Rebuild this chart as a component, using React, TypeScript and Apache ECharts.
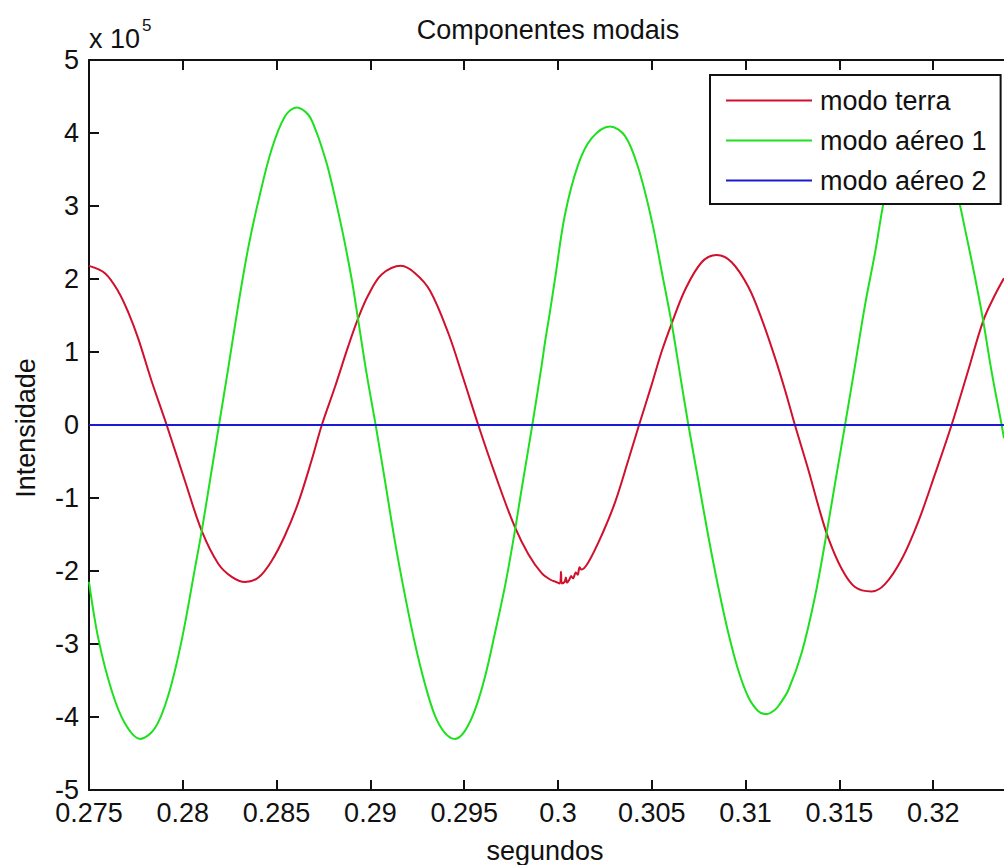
import React, { useEffect, useRef } from 'react';
import * as echarts from 'echarts';

// x axis (segundos) and y axis (Intensidade, x 10^5) settings
const xMin = 0.275;
const xMax = 0.325;
const xStep = 0.005;
const yMin = -5;
const yMax = 5;
const yStep = 1;

const seriesNames = ['modo terra', 'modo aéreo 1', 'modo aéreo 2'];

// modo terra (red), values in units of 10^5
const terraT = [
  0.275, 0.27585, 0.27656, 0.2771, 0.27763, 0.27834, 0.27914, 0.28012, 0.28101, 0.28189,
  0.28261, 0.28332, 0.28403, 0.28474, 0.28545, 0.28616, 0.28687, 0.28741, 0.28811, 0.28882,
  0.28936, 0.28989, 0.2906, 0.29163, 0.29238, 0.29318, 0.29415, 0.29495, 0.29575, 0.29664,
  0.29767, 0.29842, 0.29913, 0.2996, 0.2999, 0.3001, 0.30016, 0.3002, 0.30035, 0.30042,
  0.30048, 0.3006, 0.3007, 0.3008, 0.30095, 0.30105, 0.30115, 0.30125, 0.30162, 0.30233,
  0.30304, 0.30375, 0.30432, 0.30499, 0.30553, 0.30606, 0.30677, 0.30766, 0.30846, 0.30926,
  0.31015, 0.31086, 0.31157, 0.3121, 0.31263, 0.31334, 0.31388, 0.31441, 0.31512, 0.31583,
  0.31672, 0.31743, 0.31832, 0.31921, 0.3201, 0.32098, 0.32187, 0.32267, 0.32329, 0.32377,
];
const terraV = [
  2.18, 2.08, 1.83, 1.54, 1.18, 0.6, 0.0, -0.77, -1.45, -1.9,
  -2.08, -2.15, -2.09, -1.86, -1.51, -1.06, -0.48, 0.0, 0.52, 1.08,
  1.47, 1.78, 2.06, 2.18, 2.08, 1.84, 1.26, 0.64, 0.0, -0.67,
  -1.38, -1.77, -2.03, -2.12, -2.15, -2.17, -2.01, -2.17, -2.15, -2.09,
  -2.16, -2.12, -2.07, -2.1, -2.02, -2.05, -1.95, -1.98, -1.88, -1.51,
  -1.06, -0.48, 0.0, 0.55, 1.01, 1.39, 1.85, 2.23, 2.33, 2.23,
  1.89, 1.45, 0.92, 0.48, 0.0, -0.61, -1.11, -1.55, -1.97, -2.22,
  -2.28, -2.18, -1.84, -1.32, -0.67, 0.0, 0.75, 1.43, 1.78, 2.01,
];

// modo aéreo 1 (green)
const aereo1T = [
  0.275, 0.2755, 0.27621, 0.27692, 0.27772, 0.27852, 0.27923, 0.27994, 0.28065, 0.28101,
  0.28145, 0.28193, 0.28243, 0.28296, 0.28349, 0.28403, 0.28474, 0.28545, 0.28607, 0.28669,
  0.28705, 0.28731, 0.28776, 0.28847, 0.289, 0.28936, 0.2898, 0.29028, 0.29078, 0.29131,
  0.29184, 0.29238, 0.29291, 0.29344, 0.29398, 0.29451, 0.29504, 0.29558, 0.29611, 0.29664,
  0.29718, 0.29767, 0.29806, 0.29863, 0.29913, 0.29931, 0.29957, 0.29984, 0.30037, 0.30108,
  0.3018, 0.30277, 0.30357, 0.30428, 0.30499, 0.30553, 0.30606, 0.3065, 0.30695, 0.30748,
  0.30801, 0.30855, 0.30908, 0.30961, 0.31015, 0.31068, 0.31112, 0.31157, 0.31183, 0.31228,
  0.31299, 0.3137, 0.31432, 0.3148, 0.3153, 0.31583, 0.31637, 0.3169, 0.31743, 0.318,
  0.3187, 0.31938, 0.32005, 0.3207, 0.32125, 0.3217, 0.32223, 0.32267, 0.32312, 0.32365,
  0.32377,
];
const aereo1V = [
  -2.15, -2.93, -3.64, -4.09, -4.3, -4.15, -3.7, -2.95, -1.96, -1.45,
  -0.76, 0.0, 0.79, 1.65, 2.43, 3.07, 3.78, 4.23, 4.35, 4.25,
  4.06, 3.88, 3.5, 2.7, 2.0, 1.42, 0.7, 0.0, -0.77, -1.6,
  -2.33, -3.0, -3.55, -3.98, -4.22, -4.3, -4.19, -3.9, -3.45, -2.85,
  -2.2, -1.5, -0.88, 0.0, 0.82, 1.14, 1.55, 2.0, 2.88, 3.57,
  3.93, 4.09, 3.96, 3.52, 2.81, 2.1, 1.39, 0.7, 0.0, -0.76,
  -1.52, -2.23, -2.85, -3.36, -3.73, -3.92, -3.96, -3.9, -3.82, -3.63,
  -3.12, -2.35, -1.48, -0.75, 0.0, 0.81, 1.65, 2.36, 3.14, 3.65,
  3.98, 4.08, 3.97, 3.62, 3.2, 2.68, 2.02, 1.42, 0.72, 0.0,
  -0.18,
];

// modo aéreo 2 (blue)
const aereo2T = [0.275, 0.32377];
const aereo2V = [0, 0];

const zip = (t: number[], v: number[]) => t.map((x, i) => [x, v[i]]);

const FONT = 'Liberation Sans';
const TXT = '#111';

export default function App() {
  const ref = useRef<HTMLDivElement>(null);

  useEffect(() => {
    if (!ref.current) return;
    const chart = echarts.init(ref.current, null, { renderer: 'svg' });
    const axisCommon = {
      type: 'value' as const,
      min: xMin,
      max: xMax,
      interval: xStep,
      splitLine: { show: false },
      axisLine: { show: true, onZero: false, lineStyle: { color: '#111', width: 2 } },
      axisTick: { show: true, inside: true, length: 10, lineStyle: { color: '#111', width: 2 } },
    };
    chart.setOption({
      animation: false,
      backgroundColor: '#fff',
      textStyle: { fontFamily: FONT },
      grid: { left: 89, top: 60, width: 938, height: 730, containLabel: false, outerBoundsMode: 'none' },
      xAxis: [
        {
          ...axisCommon,
          position: 'bottom',
          axisLabel: {
            show: true,
            margin: 9,
            fontSize: 27,
            fontFamily: FONT,
            color: TXT,
            formatter: (v: number) => (v > 0.3226 ? '' : String(Math.round(v * 1000) / 1000)),
          },
        },
        {
          ...axisCommon,
          position: 'top',
          axisLabel: { show: false },
        },
      ],
      yAxis: {
        type: 'value',
        min: yMin,
        max: yMax,
        interval: yStep,
        splitLine: { show: false },
        axisLine: { show: true, onZero: false, lineStyle: { color: '#111', width: 2 } },
        axisTick: { show: true, inside: true, length: 10, lineStyle: { color: '#111', width: 2 } },
        axisLabel: { margin: 10, fontSize: 27, fontFamily: FONT, color: TXT },
      },
      legend: {
        orient: 'vertical',
        left: 710,
        top: 75,
        data: seriesNames,
        icon: 'rect',
        backgroundColor: '#fff',
        borderColor: '#111',
        borderWidth: 2,
        borderRadius: 0,
        padding: [12, 14, 10, 16],
        itemWidth: 86,
        itemHeight: 2,
        itemGap: 13,
        textStyle: { fontSize: 27, fontFamily: FONT, color: TXT, lineHeight: 27, padding: [0, 0, 0, 3] },
      },
      graphic: [
        {
          type: 'text',
          x: 548,
          y: 30,
          style: {
            text: 'Componentes modais',
            fontSize: 27,
            fontFamily: FONT,
            fill: TXT,
            align: 'center',
            verticalAlign: 'middle',
          },
        },
        {
          type: 'text',
          x: 89,
          y: 39,
          style: { text: 'x 10', fontSize: 27, fontFamily: FONT, fill: TXT, align: 'left', verticalAlign: 'middle' },
        },
        {
          type: 'text',
          x: 142,
          y: 25,
          style: { text: '5', fontSize: 17, fontFamily: FONT, fill: TXT, align: 'left', verticalAlign: 'middle' },
        },
        {
          type: 'text',
          x: 545,
          y: 851,
          style: { text: 'segundos', fontSize: 27, fontFamily: FONT, fill: TXT, align: 'center', verticalAlign: 'middle' },
        },
        {
          type: 'text',
          x: 26,
          y: 428,
          rotation: Math.PI / 2,
          style: { text: 'Intensidade', fontSize: 27, fontFamily: FONT, fill: TXT, align: 'center', verticalAlign: 'middle' },
        },
      ],
      series: [
        {
          name: seriesNames[0],
          type: 'line',
          xAxisIndex: 0,
          data: zip(terraT, terraV),
          symbol: 'none',
          smooth: 0.35,
          lineStyle: { color: '#d0102c', width: 2 },
          itemStyle: { color: '#d0102c' },
        },
        {
          name: seriesNames[1],
          type: 'line',
          xAxisIndex: 0,
          data: zip(aereo1T, aereo1V),
          symbol: 'none',
          smooth: 0.35,
          lineStyle: { color: '#1ee01e', width: 2 },
          itemStyle: { color: '#1ee01e' },
        },
        {
          name: seriesNames[2],
          type: 'line',
          xAxisIndex: 0,
          data: zip(aereo2T, aereo2V),
          symbol: 'none',
          lineStyle: { color: '#1a1ad0', width: 2 },
          itemStyle: { color: '#1a1ad0' },
        },
      ],
    });
    return () => chart.dispose();
  }, []);

  return (
    <div style={{ position: 'absolute', left: 0, top: 0, width: 1004, height: 865, overflow: 'hidden', background: '#fff' }}>
      <div ref={ref} style={{ width: 1030, height: 865 }} />
    </div>
  );
}
